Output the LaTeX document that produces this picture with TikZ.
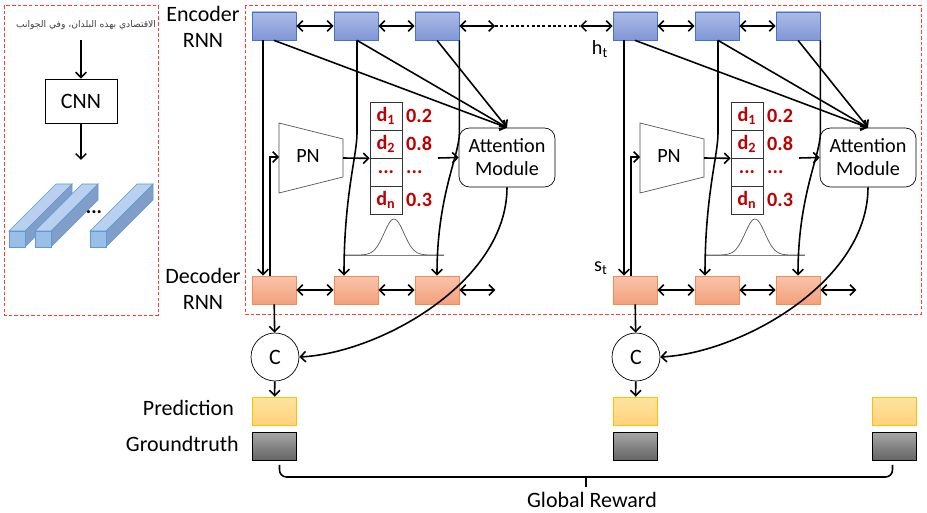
\documentclass[tikz,border=0pt]{standalone}
\usepackage{fontspec}
\usepackage{graphicx}
\setmainfont{Carlito}
\newfontfamily\arabicfont[Script=Arabic]{DejaVu Sans}
\TeXXeTstate=1
\usetikzlibrary{arrows.meta,calc,positioning}

\definecolor{encline}{RGB}{68,114,196}
\definecolor{enctop}{RGB}{172,186,230}
\definecolor{encbot}{RGB}{128,150,214}
\definecolor{decline}{RGB}{244,140,80}
\definecolor{dectop}{RGB}{250,196,172}
\definecolor{decbot}{RGB}{243,160,125}
\definecolor{predline}{RGB}{255,192,0}
\definecolor{predtop}{RGB}{255,228,160}
\definecolor{predbot}{RGB}{255,210,125}
\definecolor{gttop}{RGB}{165,165,165}
\definecolor{gtbot}{RGB}{100,100,100}
\definecolor{redd}{RGB}{192,0,0}
\definecolor{dashred}{RGB}{255,60,60}
\definecolor{barline}{RGB}{91,155,213}
\definecolor{barfront}{RGB}{155,190,230}
\definecolor{bartop}{RGB}{185,208,238}
\definecolor{barside}{RGB}{128,158,200}

\tikzset{
  every node/.style={font=\fontsize{11.5}{13}\selectfont},
  biglab/.style={font=\fontsize{12.5}{14.5}\selectfont},
  cell/.style={rectangle, minimum width=0.88cm, minimum height=0.56cm, inner sep=0pt},
  enc/.style={cell, draw=encline, top color=enctop, bottom color=encbot},
  dec/.style={cell, draw=decline, top color=dectop, bottom color=decbot},
  pred/.style={cell, draw=predline, top color=predtop, bottom color=predbot},
  gt/.style={cell, draw=black, top color=gttop, bottom color=gtbot},
  dcell/.style={rectangle, draw=black!80, minimum width=0.64cm, minimum height=0.56cm, inner sep=0pt, text=redd, font=\fontsize{11.5}{13}\selectfont\bfseries},
  dval/.style={anchor=west, inner sep=2pt, text=redd, font=\fontsize{11.5}{13}\selectfont\bfseries},
  conn/.style={line width=0.9pt},
  frame/.style={dashred, thin, dash pattern=on 2pt off 1.2pt},
  >={Straight Barb[length=3pt,width=6pt]}
}

\begin{document}
\begin{tikzpicture}[x=0.02cm, y=-0.02cm]
\useasboundingbox (0,0) rectangle (927,513);

% CNN part
\draw[frame] (4,5) rectangle (158,315);
\node (arab) at (86,25) {\resizebox{2.8cm}{!}{\arabicfont\color{black!75}\beginR الاقتصادي بهذه البلدان، وفي الجوانب\endR}};
\node[draw, biglab, minimum width=1.44cm, minimum height=0.88cm] (cnn) at (81,101) {CNN};
\coordinate (cnnin) at (81,40);
\coordinate (cnnout) at (81,160);
\draw[conn,->] (cnnin) -- (cnn.north);
\draw[conn,->] (cnn.south) -- (cnnout);
\foreach \bx in {9,35,90}{
  \draw[barline, fill=barside] (\bx+16,231) -- (\bx+63,184) -- (\bx+63,200) -- (\bx+16,247) -- cycle;
  \draw[barline, fill=bartop] (\bx,231) -- (\bx+47,184) -- (\bx+63,184) -- (\bx+16,231) -- cycle;
  \draw[barline, fill=barfront] (\bx,231) rectangle (\bx+16,247);
}
\node (bdots) at (94,212) {\textbf{...}};

\node[biglab, align=center] (enclab) at (203,27) {Encoder\\RNN};
\node[biglab, align=center] (declab) at (203,289) {Decoder\\RNN};
\draw[frame] (245,5) rectangle (921,314);

\foreach \g/\o in {a/0,b/361}{
  \node[enc] (e1\g) at (274+\o,26) {};
  \node[enc] (e2\g) at (356+\o,26) {};
  \node[enc] (e3\g) at (437+\o,26) {};
  \node[dec] (d1\g) at (274+\o,290) {};
  \node[dec] (d2\g) at (356+\o,290) {};
  \node[dec] (d3\g) at (437+\o,290) {};
  \draw[conn,<->] (e1\g) -- (e2\g);
  \draw[conn,<->] (e2\g) -- (e3\g);
  \draw[conn,<->] (d1\g) -- (d2\g);
  \draw[conn,<->] (d2\g) -- (d3\g);
  \coordinate (dend\g) at ($(d3\g.east)+(36,0)$);
  \draw[conn,<->] (d3\g) -- (dend\g);

  % pointer network and distribution
  \draw[black!70] (279+\o,123) -- (343+\o,139) -- (343+\o,177) -- (279+\o,193) -- cycle;
  \node (pn\g) at (308+\o,156) {PN};
  \coordinate (pnin\g) at (279+\o,157);
  \coordinate (pnout\g) at (343+\o,158);
  \node[dcell] (t1\g) at (386+\o,116) {d\textsubscript{1}};
  \node[dcell] (t2\g) at (386+\o,144) {d\textsubscript{2}};
  \node[dcell] (t3\g) at (386+\o,172) {...};
  \node[dcell] (t4\g) at (386+\o,200) {d\textsubscript{n}};
  \node[dval] (v1\g) at (t1\g.east) {0.2};
  \node[dval] (v2\g) at (t2\g.east) {0.8};
  \node[dval] (v3\g) at (t3\g.east) {...};
  \node[dval] (v4\g) at (t4\g.east) {0.3};
  \draw[conn,->] (pnout\g) -- (t2\g.south west);
  \draw[gray] (345+\o,255) -- (444+\o,255);
  \draw[gray!70!black] plot[domain=-49:50, samples=60] ({394+\o+\x},{255-36*exp(-(\x/14)^2)});

  \node[draw, rounded corners=6pt, align=center, minimum width=1.92cm, minimum height=1.18cm, inner sep=1pt] (att\g) at (507+\o,157.5) {Attention\\Module};
  \coordinate (attin\g) at (438+\o,158);
  \draw[conn,->] (attin\g) -- (att\g.west);
  \draw[conn,->] (e1\g.south) -- (att\g.north);
  \draw[conn,->] ($(e2\g.south)+(1,0)$) -- (att\g.north);
  \draw[conn,->] (e3\g.south) -- (att\g.north);

  % encoder to decoder
  \draw[conn,->] ($(e1\g.south)+(-11,0)$) -- ($(d1\g.north)+(-11,0)$);
  \draw[conn,->] ($(d1\g.north)+(-4,0)$) |- (pnin\g);
  \draw[conn,->] ($(e2\g.south)+(1,0)$) -- ++(0,93) .. controls +(0,22) and +(0,-80) .. ($(d2\g.north)+(-12,0)$);
  \draw[conn,->] (e3\g.south east) -- ++(0,93) .. controls +(0,22) and +(0,-80) .. (d3\g.north);

  % combination and output
  \node[draw, biglab, circle, minimum size=0.96cm, inner sep=0pt] (c\g) at (275+\o,357) {C};
  \draw[conn,->] (d1\g) -- (c\g);
  \draw[conn,->] (att\g.south) .. controls +(0,95) and +(80,-4) .. (c\g.east);
  \node[pred] (p\g) at (274.5+\o,411) {};
  \node[gt] (g\g) at (274.5+\o,446.5) {};
  \draw[conn,->] (c\g) -- (p\g);
}

\coordinate (dotl) at (495,26);
\coordinate (dotr) at (580,26);
\draw[conn,<->] (e3a) -- (dotl);
\draw[line width=1.6pt, dash pattern=on 1.6pt off 1.4pt] (dotl) -- (dotr);
\draw[conn,<->] (dotr) -- (e1b);

\node (ht) at (600,49) {h\textsubscript{t}};
\node (st) at (601,268) {s\textsubscript{t}};

\node[pred] (pc) at (894.5,411) {};
\node[gt] (gc) at (894.5,446.5) {};
\node[biglab, anchor=east] (predlab) at (240,408) {Prediction};
\node[biglab, anchor=east] (gtlab) at (245,444) {Groundtruth};

% global reward brace
\coordinate (bl) at ($(ga.south)+(5,4)$);
\coordinate (br) at ($(gc.south)+(-2,4)$);
\coordinate (btip) at (586,477);
\draw[conn, rounded corners=4pt] (bl) |- (btip) -| (br);
\draw[conn] (btip) -- ++(0,10);
\node[biglab] (reward) at (592,500) {Global Reward};
\end{tikzpicture}
\end{document}
